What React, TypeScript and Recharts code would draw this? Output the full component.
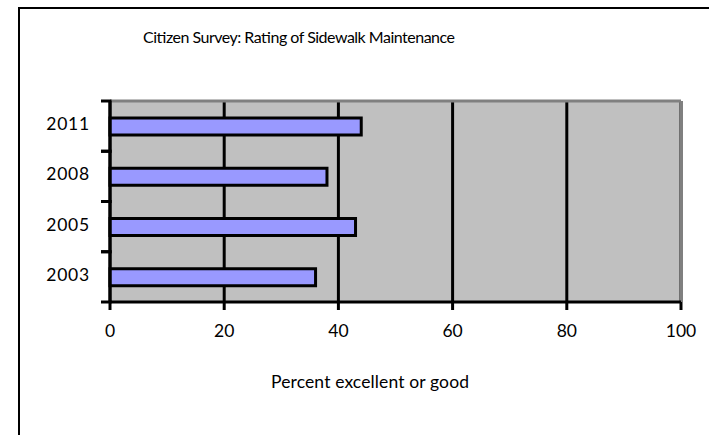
import React from 'react';
import {
  BarChart,
  Bar,
  XAxis,
  YAxis,
  CartesianGrid,
  ReferenceLine,
} from 'recharts';

// Survey years and the share of residents rating sidewalk maintenance excellent or good
const years = ['2003', '2005', '2008', '2011'];
const ratings = [36, 43, 38, 44];
const percentTicks = [0, 20, 40, 60, 80, 100];

const chartTitle = 'Citizen Survey: Rating of Sidewalk Maintenance';
const xAxisTitle = 'Percent excellent or good';

const data = years.map((year, i) => ({ year, rating: ratings[i] }));

const FONT = "Lato, 'Open Sans', 'Noto Sans', sans-serif";

// Year label plus short tick marks at the edges of each category band
const YearTick = (props: any) => {
  const { x, y, payload } = props;
  const half = payload && typeof payload.offset === 'number' ? payload.offset : 25;
  return (
    <g>
      <line x1={x - 9} x2={x + 1.5} y1={y - half} y2={y - half} stroke="#000" strokeWidth={3} />
      <line x1={x - 9} x2={x + 1.5} y1={y + half} y2={y + half} stroke="#000" strokeWidth={3} />
      <text
        x={x - 20}
        y={y + 4}
        textAnchor="end"
        fontFamily={FONT}
        fontSize={17.5}
        fill="#000"
        style={{ letterSpacing: '0.8px' }}
      >
        {payload.value}
      </text>
    </g>
  );
};

export default function App() {
  return (
    <div
      style={{
        position: 'fixed',
        left: 0,
        top: 0,
        width: 709,
        height: 435,
        background: '#fff',
        overflow: 'hidden',
      }}
    >
      <div
        style={{
          position: 'absolute',
          left: 18,
          top: 7,
          width: 800,
          height: 600,
          border: '2px solid #000',
        }}
      />
      <div style={{ position: 'absolute', left: 0, top: 0 }}>
        <BarChart
          width={709}
          height={435}
          data={data}
          layout="vertical"
          margin={{ top: 101, right: 28, bottom: 103, left: 50 }}
        >
          <CartesianGrid
            horizontal={false}
            stroke="#000"
            strokeWidth={3}
            fill="#c0c0c0"
            fillOpacity={1}
          />
          <CartesianGrid
            vertical={false}
            horizontalCoordinatesGenerator={({ offset }: any) => [offset.top]}
            stroke="#808080"
            strokeWidth={3}
          />
          <ReferenceLine x={100} stroke="#808080" strokeWidth={3} />
          <XAxis
            type="number"
            domain={[0, 100]}
            ticks={percentTicks}
            height={30}
            axisLine={{ stroke: '#000', strokeWidth: 3 }}
            tickLine={{ stroke: '#000', strokeWidth: 3 }}
            tickSize={8}
            tickMargin={15}
            tick={{ fill: '#000', fontSize: 17.5, fontFamily: FONT }}
          />
          <YAxis
            type="category"
            dataKey="year"
            reversed
            width={60}
            axisLine={{ stroke: '#000', strokeWidth: 3 }}
            tickLine={false}
            tickSize={0}
            tickMargin={0}
            tick={<YearTick />}
            interval={0}
          />
          <Bar
            dataKey="rating"
            fill="#9999ff"
            stroke="#000"
            strokeWidth={3}
            barSize={17}
            isAnimationActive={false}
          />
          <text
            x={299}
            y={42.5}
            textAnchor="middle"
            fontFamily={FONT}
            fontSize={16}
            fill="#000"
            textLength={312}
            lengthAdjust="spacing"
          >
            {chartTitle}
          </text>
          <text
            x={370}
            y={388}
            textAnchor="middle"
            fontFamily={FONT}
            fontSize={17.5}
            fill="#000"
            textLength={198}
            lengthAdjust="spacing"
          >
            {xAxisTitle}
          </text>
        </BarChart>
      </div>
    </div>
  );
}
